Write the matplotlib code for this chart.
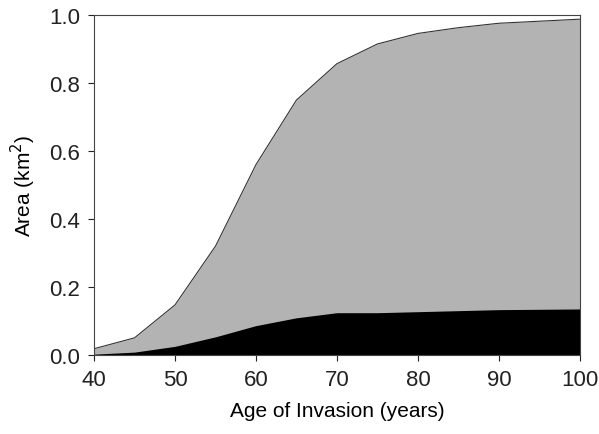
import matplotlib
matplotlib.use("Agg")
from matplotlib import pyplot as plt

# age of invasion (years)
age = [40, 45, 50, 55, 60, 65, 70, 75, 80, 85, 90, 95, 100]
# total invaded area (km2)
total_area = [0.018, 0.05, 0.147, 0.32, 0.56, 0.75, 0.857, 0.915, 0.946, 0.963, 0.976, 0.982, 0.988]
# lower (black) component (km2)
core_area = [0.002, 0.008, 0.025, 0.053, 0.086, 0.109, 0.124, 0.124, 0.127, 0.130, 0.133, 0.134, 0.135]

x_ticks = [40, 50, 60, 70, 80, 90, 100]
y_ticks = [0.0, 0.2, 0.4, 0.6, 0.8, 1.0]

plt.rcParams['font.family'] = ['Liberation Sans', 'DejaVu Sans']

fig = plt.figure(figsize=(5.99, 4.35), dpi=100)
ax = fig.add_axes([0.157, 0.182, 0.811, 0.781])

ax.fill_between(age, 0, total_area, color='#b3b3b3', linewidth=0)
ax.plot(age, total_area, color='#333333', linewidth=0.8)
ax.fill_between(age, 0, core_area, color='black', linewidth=0)

ax.set_xlim(40, 100)
ax.set_ylim(0, 1.0)
ax.set_xticks(x_ticks)
ax.set_yticks(y_ticks)
ax.set_yticklabels(['%.1f' % v for v in y_ticks])
ax.tick_params(direction='out', length=4, width=0.8, labelsize=16, colors='#222222', pad=6)

for side in ['left', 'bottom', 'top', 'right']:
    ax.spines[side].set_color('#444444')
    ax.spines[side].set_linewidth(0.8)

ax.set_xlabel('Age of Invasion (years)', fontsize=15, labelpad=8)
ax.set_ylabel('Area (km$^2$)', fontsize=15, labelpad=8)

fig.savefig('out.png', dpi=100)
